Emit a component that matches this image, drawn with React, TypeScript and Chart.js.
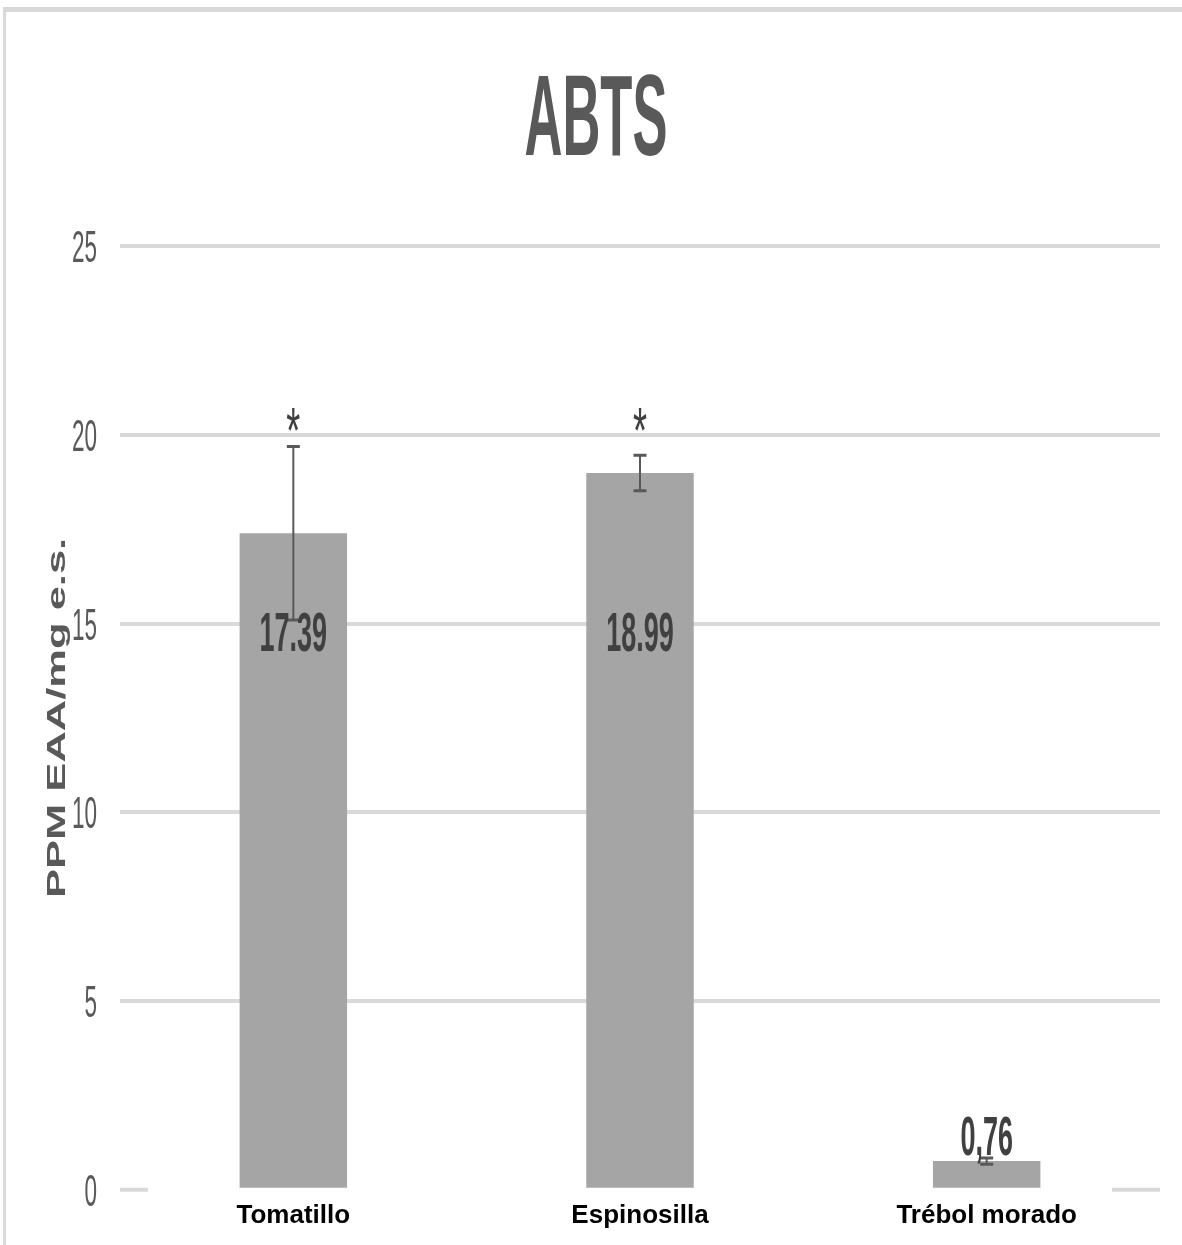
import React, { useEffect, useRef } from "react";
import { Chart, registerables } from "chart.js";

Chart.register(...registerables);

const TITLE = "ABTS";
const Y_TITLE = "PPM EAA/mg e.s.";
const CATEGORIES = ["Tomatillo", "Espinosilla", "Trébol morado"];
const VALUES = [17.39, 18.99, 0.76];
const ERRORS = [2.3, 0.47, 0.08];
const VALUE_LABELS = ["17.39", "18.99", "0,76"];
const SIGNIFICANCE = ["*", "*", ""];
const Y_MIN = 0;
const Y_MAX = 25;
const Y_STEP = 5;

const FONT = '"Liberation Sans", Arial, sans-serif';
const W = 1176;
const H = 1233;

function drawText(
  ctx: CanvasRenderingContext2D,
  text: string,
  x: number,
  yc: number,
  size: number,
  weight: string,
  color: string,
  sy: number,
  align: CanvasTextAlign,
  centerFrac = 0.358
) {
  ctx.save();
  ctx.translate(x, yc);
  ctx.scale(1, sy);
  ctx.font = `${weight} ${size}px ${FONT}`;
  ctx.fillStyle = color;
  ctx.textAlign = align;
  ctx.textBaseline = "alphabetic";
  ctx.fillText(text, 0, centerFrac * size);
  ctx.restore();
}

const decorPlugin = {
  id: "decor",
  afterDraw(chart: any) {
    const ctx: CanvasRenderingContext2D = chart.ctx;
    const area = chart.chartArea;
    const y = chart.scales.y;
    const meta = chart.getDatasetMeta(0);

    // zero line segments at both ends
    ctx.save();
    ctx.strokeStyle = "#d9d9d9";
    ctx.lineWidth = 4;
    const y0 = y.getPixelForValue(0);
    ctx.beginPath();
    ctx.moveTo(area.left, y0);
    ctx.lineTo(area.left + 28, y0);
    ctx.moveTo(area.right - 48, y0);
    ctx.lineTo(area.right, y0);
    ctx.stroke();
    ctx.restore();

    // title
    drawText(ctx, TITLE, chart.width / 2 + 2, 102, 52.5, "bold", "#595959", 2.18, "center");

    // y ticks
    for (let v = Y_MIN; v <= Y_MAX; v += Y_STEP) {
      drawText(ctx, String(v), area.left - 23, y.getPixelForValue(v), 22.5, "normal", "#595959", 2.0, "right");
    }

    // y title (rotated, stretched along text)
    ctx.save();
    ctx.translate(50, (area.top + area.bottom) / 2);
    ctx.rotate(-Math.PI / 2);
    ctx.scale(1.74, 1);
    ctx.font = `bold 25px ${FONT}`;
    ctx.fillStyle = "#595959";
    ctx.textAlign = "center";
    ctx.textBaseline = "alphabetic";
    ctx.fillText(Y_TITLE, 0, 0.358 * 25);
    ctx.restore();

    // error bars
    meta.data.forEach((bar: any, i: number) => {
      const x = bar.x;
      const top = y.getPixelForValue(VALUES[i] + ERRORS[i]);
      const bot = y.getPixelForValue(VALUES[i] - ERRORS[i]);
      ctx.save();
      ctx.strokeStyle = "#595959";
      ctx.lineWidth = 2;
      ctx.beginPath();
      ctx.moveTo(x, top);
      ctx.lineTo(x, bot);
      ctx.stroke();
      ctx.lineWidth = 3;
      ctx.beginPath();
      ctx.moveTo(x - 6.5, top);
      ctx.lineTo(x + 6.5, top);
      ctx.moveTo(x - 6.5, bot);
      ctx.lineTo(x + 6.5, bot);
      ctx.stroke();
      ctx.restore();
    });

    // value labels and significance marks
    meta.data.forEach((bar: any, i: number) => {
      const x = bar.x;
      let yc: number;
      if (VALUES[i] > 5) {
        yc = y.getPixelForValue(14.8);
      } else {
        yc = bar.y - 26;
      }
      drawText(ctx, VALUE_LABELS[i], x, yc, 27, "bold", "#404040", 2.03, "center");
      if (SIGNIFICANCE[i]) {
        drawText(ctx, SIGNIFICANCE[i], x, y.getPixelForValue(20.5), 36, "normal", "#404040", 1.8, "center", 0.57);
      }
    });
  },
};

export default function App() {
  const ref = useRef<HTMLCanvasElement | null>(null);

  useEffect(() => {
    if (!ref.current) return;
    const chart = new Chart(ref.current, {
      type: "bar",
      data: {
        labels: CATEGORIES,
        datasets: [
          {
            data: VALUES,
            backgroundColor: "#a5a5a5",
            borderWidth: 0,
            barPercentage: 0.31,
            categoryPercentage: 1,
          },
        ],
      },
      options: {
        responsive: false,
        animation: false,
        layout: { padding: { left: 114, right: 22, top: 234, bottom: 4 } },
        plugins: {
          legend: { display: false },
          title: { display: false },
          tooltip: { enabled: false },
        },
        scales: {
          x: {
            grid: { display: false, drawTicks: false },
            border: { display: false },
            ticks: {
              color: "#000000",
              font: { family: FONT, size: 26, weight: "bold" },
              padding: 10,
              maxRotation: 0,
              autoSkip: false,
            },
          },
          y: {
            min: Y_MIN,
            max: Y_MAX,
            ticks: { stepSize: Y_STEP, display: false },
            grid: {
              drawTicks: false,
              lineWidth: 4,
              color: (c: any) => (c.tick && c.tick.value === 0 ? "rgba(0,0,0,0)" : "#d9d9d9"),
            },
            border: { display: false },
          },
        },
      },
      plugins: [decorPlugin],
    });
    return () => chart.destroy();
  }, []);

  return (
    <div
      style={{
        position: "absolute",
        left: 3,
        top: 7,
        borderTop: "5px solid #d9d9d9",
        borderLeft: "3px solid #d9d9d9",
        background: "#ffffff",
      }}
    >
      <canvas ref={ref} width={W} height={H} style={{ display: "block", width: W, height: H }} />
    </div>
  );
}
